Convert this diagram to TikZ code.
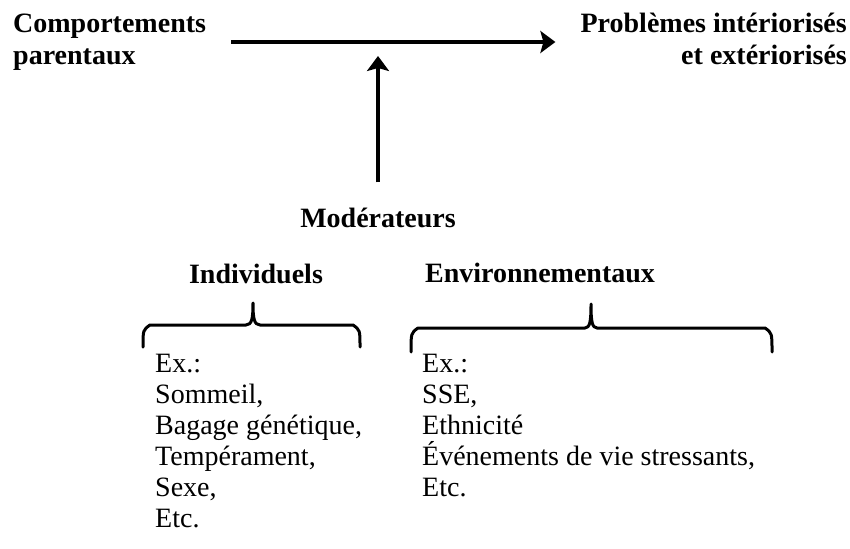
\documentclass[tikz,border=0pt]{standalone}
\usepackage{fontspec}
\setmainfont{Liberation Serif}
\usetikzlibrary{arrows.meta}
\begin{document}
\begin{tikzpicture}[x=1pt,y=-1pt,
  title/.style={font=\fontsize{28}{32}\selectfont\bfseries, inner sep=0pt},
  item/.style={font=\fontsize{28}{31}\selectfont, inner sep=0pt, align=left, anchor=base west},
  arr/.style={line width=4pt, -{Stealth[length=15pt,width=22pt,inset=3pt]}},
  brace/.style={line width=3pt, line join=round, line cap=round}]
\useasboundingbox[fill=white] (0,0) rectangle (850,548);
\coordinate (hl) at (0,42);
% multi-line nodes: base anchor is the baseline of the last line
\node[title, align=left, anchor=base west] (comp) at (13,65) {Comportements\\parentaux};
\node[title, align=right, anchor=base east] (prob) at (847,65) {Problèmes intériorisés\\et extériorisés};
\node[title, anchor=base] (mod) at (378,227) {Modérateurs};
\node[title, anchor=base] (ind) at (256,283) {Individuels};
\node[title, anchor=base west] (env) at (425,282) {Environnementaux};
\node[item] (list1) at (155,527) {Ex.:\\Sommeil,\\Bagage génétique,\\Tempérament,\\Sexe,\\Etc.};
\node[item] (list2) at (422,496) {Ex.:\\SSE,\\Ethnicité\\Événements de vie stressants,\\Etc.};
\draw[arr, shorten <=25pt, shorten >=25pt] (comp.east |- hl) -- (prob.west |- hl);
\draw[arr, shorten <=25pt, shorten >=14pt] (mod.north) -- (mod.north |- hl);
\draw[brace] (143,347) .. controls (143,330) .. (150,325) -- (246,325)
  .. controls (252,325) and (253,318) .. (253,303)
  .. controls (253,318) and (254,325) .. (260,325) -- (353,325)
  .. controls (360,330) .. (360,347);
\draw[brace] (411,352) .. controls (411,333) .. (418,328) -- (585,328)
  .. controls (590,328) and (591,321) .. (591,304)
  .. controls (591,321) and (592,328) .. (597,328) -- (765,328)
  .. controls (772,333) .. (772,352);
\end{tikzpicture}
\end{document}
